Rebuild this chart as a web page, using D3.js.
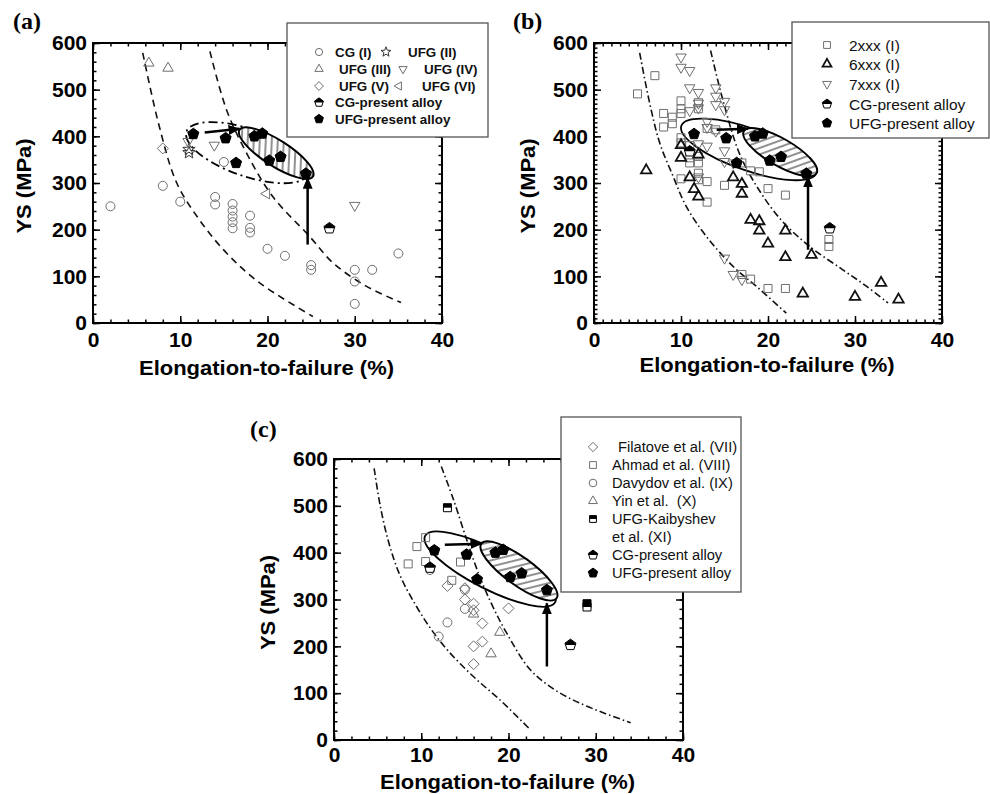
<!DOCTYPE html>
<html>
<head>
<meta charset="utf-8">
<script src="https://cdn.jsdelivr.net/npm/d3@7"></script>
<style>body{margin:0;background:#fff} text{white-space:pre}</style>
</head>
<body>
<div id="chart"></div>
<script>
// ---- data (x = elongation %, y = YS MPa) ----
var xTicks = [0, 10, 20, 30, 40];
var yTicks = [0, 100, 200, 300, 400, 500, 600];

// present alloy, shared by all three panels
var ufgPresent = [[11.5,405],[15.2,396],[16.4,343],[18.5,400],[19.4,406],[20.2,348],[21.5,356],[24.4,320]];
var cgPresentA = [[27.1,203]];
var cgPresentBC = [[11,368],[27.1,203]];

// panel (a)
var cgI = [[2,250],[8,294],[10,260],[14,270],[14,254],[15,345],[16,255],[16,241],[16,228],[16,216],[16,203],
  [18,230],[18,204],[18,194],[20,159],[22,144],[25,124],[25,114],[30,114],[30,89],[30,41],[32,114],[35,149]];
var ufgII = [[11,372],[11,365]];
var ufgIII = [[6.4,557],[8.6,546]];
var ufgIV = [[10.9,389],[13.9,381],[30,252]];
var ufgV = [[8,374]];
var ufgVI = [[19.9,277]];
var curveA1 = [[5.7,579],[7.6,421],[9.6,300],[12.2,221],[15.3,150],[19.1,86],[25.2,14]];
var curveA2 = [[13.4,582],[15.3,457],[17.6,364],[20.6,271],[24.8,186],[27.5,129],[31.3,79],[35.3,44]];

// panel (b)
var al2xxx = [[5,491],[7,530],[8,449],[8,420],[9,441],[9,427],[10,476],[10,459],[10,449],[10,397],[10,386],[10,309],
  [11,380],[11,343],[11,354],[12,472],[12,459],[12,357],[12,343],[12,321],[12,307],[13,417],[13,303],[13,259],
  [14,414],[15,295],[17,343],[18,326],[19,324],[20,288],[22,274],[17,104],[18,94],[20,74],[22,74],[27,179],[27,164]];
var al6xxx = [[6,327],[10,381],[10,354],[11,312],[11.5,287],[12,271],[12,361],[16,312],[17,298],[17,277],[18,221],
  [19,218],[19,198],[20,170],[22,198],[22,141],[25,146],[24,63],[30,56],[33,86],[35,50]];
var al7xxx = [[10,570],[10,548],[11,541],[11,504],[12,494],[12,471],[12,461],[11,455],[13,432],[13,419],[14,504],
  [14,486],[14,468],[15,475],[15,457],[14,411],[13,379],[12,384],[15,369],[15,346],[12,313],[16,343],[15,139],[16,104],[17,93]];
var curveB1 = [[5.25,579],[6.4,471],[7.55,386],[9.1,314],[10.6,250],[12.9,186],[16,121],[18.7,78],[22.1,21]];
var curveB2 = [[13.4,584],[14.8,479],[16.7,364],[18.7,293],[21.5,221],[24.8,164],[28.6,114],[31.3,79],[33.8,43]];

// panel (c)
var filatove = [[13,329],[15,324],[15,300],[16,291],[16,277],[17,249],[16,200],[17,210],[16,162],[20,281]];
var ahmad = [[8.5,376],[9.5,413],[10.5,432],[10.5,381],[13.5,341],[14.5,380]];
var davydov = [[11,363],[15,321],[15,280],[13,251],[12,221]];
var yin = [[16,269],[19,230],[18,184]];
var kaibyshev = [[13,496],[29,291],[29,284]];
var curveC1 = [[4.6,580],[5.3,500],[6.3,420],[7.6,350],[9.3,290],[11,240],[13,192],[16,135],[19,86],[22.5,22]];
var curveC2 = [[12.3,584],[13.7,513],[15.2,428],[16.7,349],[18.2,285],[19.8,228],[22.5,150],[25.5,105],[29,72],[34,37]];

// ---- drawing ----
var FONT = "'Liberation Sans', Arial, Helvetica, sans-serif";
var svg = d3.select("#chart").append("svg").attr("width", 990).attr("height", 794);
var defs = svg.append("defs");

defs.append("marker").attr("id", "arrow").attr("markerUnits", "userSpaceOnUse")
  .attr("viewBox", "0 0 12 10").attr("refX", 11).attr("refY", 5)
  .attr("markerWidth", 12).attr("markerHeight", 10).attr("orient", "auto")
  .append("path").attr("d", "M0,0L12,5L0,10Z").attr("fill", "#000");

function hatch(id, angle) {
  var p = defs.append("pattern").attr("id", id).attr("patternUnits", "userSpaceOnUse")
    .attr("width", 6).attr("height", 6).attr("patternTransform", "rotate(" + angle + ")");
  p.append("rect").attr("width", 6).attr("height", 6).attr("fill", "#fff");
  p.append("line").attr("x1", 1).attr("y1", 0).attr("x2", 1).attr("y2", 6)
    .attr("stroke", "#222").attr("stroke-width", 1);
}
hatch("hatchA", -30);
hatch("hatchB", 40);

function symbolPath(type, r) {
  var p = d3.path(), pts = [], i, a;
  function poly(q) {
    q.forEach(function (v, k) { if (k) p.lineTo(v[0], v[1]); else p.moveTo(v[0], v[1]); });
    p.closePath();
  }
  switch (type) {
    case "circle": p.moveTo(r, 0); p.arc(0, 0, r, 0, 2 * Math.PI); p.closePath(); break;
    case "up": poly([[0,-r],[0.866*r,0.5*r],[-0.866*r,0.5*r]]); break;
    case "down": poly([[0,r],[0.866*r,-0.5*r],[-0.866*r,-0.5*r]]); break;
    case "left": poly([[-r,0],[0.5*r,-0.866*r],[0.5*r,0.866*r]]); break;
    case "square": poly([[-r,-r],[r,-r],[r,r],[-r,r]]); break;
    case "diamond": poly([[0,-r],[r,0],[0,r],[-r,0]]); break;
    case "star":
      for (i = 0; i < 10; i++) { a = -Math.PI/2 + i*Math.PI/5; var rr = i % 2 ? r*0.42 : r; pts.push([rr*Math.cos(a), rr*Math.sin(a)]); }
      poly(pts); break;
    case "pent":
      for (i = 0; i < 5; i++) { a = -Math.PI/2 + i*2*Math.PI/5; pts.push([r*Math.cos(a), r*Math.sin(a)]); }
      poly(pts); break;
    case "pentTop": poly([[0,-r],[0.951*r,-0.309*r],[0.851*r,0],[-0.851*r,0],[-0.951*r,-0.309*r]]); break;
    case "squareTop": poly([[-r,-r],[r,-r],[r,0],[-r,0]]); break;
  }
  return p.toString();
}

function drawSymbol(sel, st, k) {
  var r = st.r * (k || 1);
  sel.append("path").attr("d", symbolPath(st.shape, r))
    .attr("fill", st.fill).attr("stroke", st.stroke).attr("stroke-width", st.sw);
  if (st.top) sel.append("path").attr("d", symbolPath(st.top, r)).attr("fill", st.stroke);
}

var GRAY = "#6e6e6e";
var styles = {
  circle: {shape:"circle", r:4.5, fill:"none", stroke:GRAY, sw:1},
  star: {shape:"star", r:6.5, fill:"none", stroke:"#333", sw:1},
  up: {shape:"up", r:6, fill:"none", stroke:GRAY, sw:1},
  down: {shape:"down", r:6, fill:"none", stroke:GRAY, sw:1},
  left: {shape:"left", r:6, fill:"none", stroke:GRAY, sw:1},
  diamond: {shape:"diamond", r:5.5, fill:"none", stroke:GRAY, sw:1},
  square: {shape:"square", r:4, fill:"none", stroke:GRAY, sw:1},
  upBold: {shape:"up", r:6, fill:"none", stroke:"#111", sw:1.8},
  pent: {shape:"pent", r:5.8, fill:"#000", stroke:"#000", sw:1},
  halfPent: {shape:"pent", r:5.8, fill:"#fff", stroke:"#000", sw:1, top:"pentTop"},
  halfSquare: {shape:"square", r:4, fill:"#fff", stroke:"#000", sw:1, top:"squareTop"}
};

var panels = [
  {
    label: "(a)", labelX: 13, labelY: 29,
    left: 93, right: 442, top: 43, bottom: 323, xMinor: 2, yMinor: 20, xPad: 9,
    yTitleX: 31, xTitleY: 375,
    curves: [curveA1, curveA2], curveDash: "7,5",
    outer: {c:[17.7,365], rx:64.5, ry:23.5, rot:19, dash:"9,4,2,4"},
    inner: {c:[21.0,364], rx:43.5, ry:13, rot:32.5, fill:"url(#hatchA)"},
    arrows: [[[12.8,408],[16.8,416]], [[24.6,168],[24.6,311]]],
    series: [
      {data: cgI, st: styles.circle}, {data: ufgII, st: styles.star}, {data: ufgIII, st: styles.up},
      {data: ufgIV, st: styles.down}, {data: ufgV, st: styles.diamond}, {data: ufgVI, st: styles.left},
      {data: cgPresentA, st: styles.halfPent}, {data: ufgPresent, st: styles.pent}
    ],
    legend: {x:287, y:23, w:201, h:114, size:13.4, weight:"bold", k:0.8, items: [
      {st:styles.circle, sx:319, tx:335, y:52, text:"CG (I)"},
      {st:styles.star, sx:386, tx:408, y:52, text:"UFG (II)"},
      {st:styles.up, sx:319, tx:339, y:69, text:"UFG (III)"},
      {st:styles.down, sx:403, tx:424, y:69, text:"UFG (IV)"},
      {st:styles.diamond, sx:319, tx:339, y:86, text:"UFG (V)"},
      {st:styles.left, sx:399, tx:422, y:86, text:"UFG (VI)"},
      {st:styles.halfPent, sx:319, tx:335, y:102.5, text:"CG-present alloy"},
      {st:styles.pent, sx:319, tx:335, y:119, text:"UFG-present alloy"}
    ]}
  },
  {
    label: "(b)", labelX: 513, labelY: 29,
    left: 594, right: 942, top: 43, bottom: 323, xMinor: 1, yMinor: 10, xPad: 9,
    yTitleX: 535, xTitleY: 372,
    curves: [curveB1, curveB2], curveDash: "7,3,1.5,3",
    outer: {c:[17.8,372], rx:71.5, ry:21, rot:19.3, dash:null},
    inner: {c:[21.4,366], rx:42, ry:13.5, rot:30, fill:"url(#hatchB)"},
    arrows: [[[14.1,414],[17.7,416]], [[24.6,157],[24.6,314]]],
    series: [
      {data: al2xxx, st: styles.square}, {data: al7xxx, st: styles.down}, {data: al6xxx, st: styles.upBold},
      {data: cgPresentBC, st: styles.halfPent}, {data: ufgPresent, st: styles.pent}
    ],
    legend: {x:792, y:22, w:197, h:116, size:15.5, weight:"normal", k:0.85, items: [
      {st:styles.square, sx:827, tx:849, y:45, text:"2xxx (I)"},
      {st:styles.upBold, sx:827, tx:849, y:64, text:"6xxx (I)"},
      {st:styles.down, sx:827, tx:849, y:84, text:"7xxx (I)"},
      {st:styles.halfPent, sx:827, tx:849, y:104, text:"CG-present alloy"},
      {st:styles.pent, sx:827, tx:849, y:123, text:"UFG-present alloy"}
    ]}
  },
  {
    label: "(c)", labelX: 250, labelY: 437,
    left: 334, right: 683, top: 459, bottom: 740, xMinor: 2, yMinor: 20, xPad: 7,
    yTitleX: 275, xTitleY: 789,
    curves: [curveC1, curveC2], curveDash: "7,3,1.5,3",
    outer: {c:[17.9,365], rx:73, ry:20, rot:27, dash:null},
    inner: {c:[21.2,361], rx:46.5, ry:14, rot:36, fill:"url(#hatchB)"},
    arrows: [[[12.7,417],[16.9,419]], [[24.4,157],[24.4,292]]],
    series: [
      {data: filatove, st: styles.diamond}, {data: ahmad, st: styles.square}, {data: davydov, st: styles.circle},
      {data: yin, st: styles.up}, {data: kaibyshev, st: styles.halfSquare},
      {data: cgPresentBC, st: styles.halfPent}, {data: ufgPresent, st: styles.pent}
    ],
    legend: {x:561, y:417, w:180, h:175, size:14.7, weight:"normal", k:0.85, items: [
      {st:styles.diamond, sx:593, tx:618, y:447, text:"Filatove et al. (VII)"},
      {st:styles.square, sx:593, tx:612, y:465, text:"Ahmad et al. (VIII)"},
      {st:styles.circle, sx:593, tx:612, y:483, text:"Davydov et al. (IX)"},
      {st:styles.up, sx:593, tx:612, y:501, text:"Yin et al.  (X)"},
      {st:styles.halfSquare, sx:593, tx:612, y:519, text:"UFG-Kaibyshev"},
      {st:null, sx:593, tx:612, y:537, text:"et al. (XI)"},
      {st:styles.halfPent, sx:593, tx:612, y:555, text:"CG-present alloy"},
      {st:styles.pent, sx:593, tx:612, y:573, text:"UFG-present alloy"}
    ]}
  }
];

function styleAxis(g) {
  g.select(".domain").remove();
  g.selectAll(".tick line").attr("stroke", "#000").attr("stroke-width", 1.5);
  g.selectAll("text").attr("font-family", FONT).attr("font-weight", "bold")
    .attr("font-size", 21).attr("fill", "#000");
}

panels.forEach(function (p) {
  var g = svg.append("g");
  var x = d3.scaleLinear().domain([0, 40]).range([p.left, p.right]);
  var y = d3.scaleLinear().domain([0, 600]).range([p.bottom, p.top]);
  var xMinor = d3.range(0, 40.001, p.xMinor), yMinor = d3.range(0, 600.001, p.yMinor);

  // fitted guide curves
  var line = d3.line().x(function (d) { return x(d[0]); }).y(function (d) { return y(d[1]); })
    .curve(d3.curveCatmullRom.alpha(0.5));
  p.curves.forEach(function (c) {
    g.append("path").attr("d", line(c)).attr("fill", "none").attr("stroke", "#111")
      .attr("stroke-width", 1.6).attr("stroke-dasharray", p.curveDash);
  });

  // ellipses
  g.append("ellipse").attr("transform", "translate(" + x(p.outer.c[0]) + "," + y(p.outer.c[1]) + ") rotate(" + p.outer.rot + ")")
    .attr("rx", p.outer.rx).attr("ry", p.outer.ry).attr("fill", "none").attr("stroke", "#000")
    .attr("stroke-width", 1.8).attr("stroke-dasharray", p.outer.dash);
  g.append("ellipse").attr("transform", "translate(" + x(p.inner.c[0]) + "," + y(p.inner.c[1]) + ") rotate(" + p.inner.rot + ")")
    .attr("rx", p.inner.rx).attr("ry", p.inner.ry).attr("fill", p.inner.fill).attr("stroke", "#000")
    .attr("stroke-width", 2);

  // markers
  p.series.forEach(function (s) {
    var m = g.selectAll(null).data(s.data).enter().append("g")
      .attr("transform", function (d) { return "translate(" + x(d[0]) + "," + y(d[1]) + ")"; });
    m.each(function () { drawSymbol(d3.select(this), s.st); });
  });

  // arrows
  p.arrows.forEach(function (a) {
    g.append("line").attr("x1", x(a[0][0])).attr("y1", y(a[0][1])).attr("x2", x(a[1][0])).attr("y2", y(a[1][1]))
      .attr("stroke", "#000").attr("stroke-width", 2.5).attr("marker-end", "url(#arrow)");
  });

  // axes, ticks inward on four sides
  g.append("g").attr("transform", "translate(0," + p.bottom + ")")
    .call(d3.axisBottom(x).tickValues(xMinor).tickSizeInner(-3.5).tickSizeOuter(0).tickFormat("")).call(styleAxis);
  g.append("g").attr("transform", "translate(0," + p.bottom + ")")
    .call(d3.axisBottom(x).tickValues(xTicks).tickSizeInner(-7).tickSizeOuter(0).tickPadding(p.xPad).tickFormat(d3.format("d"))).call(styleAxis);
  g.append("g").attr("transform", "translate(0," + p.top + ")")
    .call(d3.axisTop(x).tickValues(xMinor).tickSizeInner(-3.5).tickSizeOuter(0).tickFormat("")).call(styleAxis);
  g.append("g").attr("transform", "translate(0," + p.top + ")")
    .call(d3.axisTop(x).tickValues(xTicks).tickSizeInner(-7).tickSizeOuter(0).tickFormat("")).call(styleAxis);
  g.append("g").attr("transform", "translate(" + p.left + ",0)")
    .call(d3.axisLeft(y).tickValues(yMinor).tickSizeInner(-3.5).tickSizeOuter(0).tickFormat("")).call(styleAxis);
  g.append("g").attr("transform", "translate(" + p.left + ",0)")
    .call(d3.axisLeft(y).tickValues(yTicks).tickSizeInner(-7).tickSizeOuter(0).tickPadding(6).tickFormat(d3.format("d"))).call(styleAxis);
  g.append("g").attr("transform", "translate(" + p.right + ",0)")
    .call(d3.axisRight(y).tickValues(yMinor).tickSizeInner(-3.5).tickSizeOuter(0).tickFormat("")).call(styleAxis);
  g.append("g").attr("transform", "translate(" + p.right + ",0)")
    .call(d3.axisRight(y).tickValues(yTicks).tickSizeInner(-7).tickSizeOuter(0).tickFormat("")).call(styleAxis);

  g.append("rect").attr("x", p.left).attr("y", p.top).attr("width", p.right - p.left).attr("height", p.bottom - p.top)
    .attr("fill", "none").attr("stroke", "#000").attr("stroke-width", 2);

  // titles
  g.append("text").attr("x", (p.left + p.right) / 2 - 1).attr("y", p.xTitleY).attr("text-anchor", "middle")
    .attr("font-family", FONT).attr("font-weight", "bold").attr("font-size", 20)
    .attr("textLength", 255).attr("lengthAdjust", "spacingAndGlyphs").text("Elongation-to-failure (%)");
  g.append("text").attr("transform", "translate(" + p.yTitleX + "," + ((p.top + p.bottom) / 2 + 3) + ") rotate(-90)")
    .attr("text-anchor", "middle").attr("font-family", FONT).attr("font-weight", "bold").attr("font-size", 21)
    .attr("textLength", 95).attr("lengthAdjust", "spacingAndGlyphs").text("YS (MPa)");
  g.append("text").attr("x", p.labelX).attr("y", p.labelY)
    .attr("font-family", "'Liberation Serif', 'Times New Roman', serif").attr("font-weight", "bold")
    .attr("font-size", 24).text(p.label);

  // legend
  var L = p.legend;
  var lg = g.append("g");
  lg.append("rect").attr("x", L.x).attr("y", L.y).attr("width", L.w).attr("height", L.h)
    .attr("fill", "#fff").attr("stroke", "#555").attr("stroke-width", 1.3);
  L.items.forEach(function (it) {
    if (it.st) drawSymbol(lg.append("g").attr("transform", "translate(" + it.sx + "," + it.y + ")"), it.st, L.k);
    lg.append("text").attr("x", it.tx).attr("y", it.y).attr("dy", "0.36em")
      .attr("font-family", FONT).attr("font-weight", L.weight).attr("font-size", L.size)
      .attr("fill", "#111").text(it.text);
  });
});
</script>
</body>
</html>
